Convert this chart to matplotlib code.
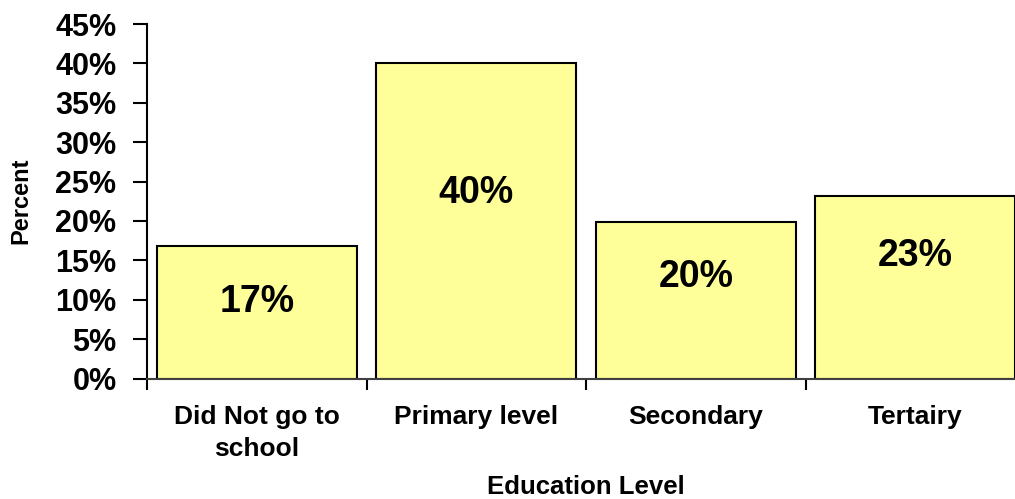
import numpy as np
import matplotlib
matplotlib.use("Agg")
import matplotlib.pyplot as plt
from matplotlib.ticker import FixedLocator, FuncFormatter

categories = ["Did Not go to\nschool", "Primary level", "Secondary", "Tertairy"]
values = [16.8, 40.0, 19.9, 23.2]
bar_labels = ["17%", "40%", "20%", "23%"]
label_frac = [0.58, 0.59, 0.65, 0.67]   # where each value label sits, as share of bar height
yticks = [0, 5, 10, 15, 20, 25, 30, 35, 40, 45]

plt.rcParams['font.family'] = ['Liberation Sans', 'DejaVu Sans']
plt.rcParams['font.weight'] = 'bold'

fig = plt.figure(figsize=(10.15, 4.99), dpi=100)
ax = fig.add_axes([147/1015, 120.5/499, 878/1015, 354.5/499])

x = np.arange(len(categories))
ax.bar(x, values, width=0.91, color='#FFFF99', edgecolor='black', linewidth=1.5, zorder=2)

for xi, v, lab, f in zip(x, values, bar_labels, label_frac):
    ax.text(xi, v*f, lab, ha='center', va='center', fontsize=27, fontweight='bold', zorder=3)

ax.set_xlim(-0.5, len(categories)-0.5)
ax.set_ylim(0, 45)

ax.yaxis.set_major_locator(FixedLocator(yticks))
ax.yaxis.set_major_formatter(FuncFormatter(lambda v, p: "%d%%" % v))
ax.tick_params(axis='y', direction='out', length=10, width=1.5, pad=12, labelsize=22)

# category boundaries as major ticks, names on minor ticks
ax.xaxis.set_major_locator(FixedLocator(np.arange(len(categories)+1) - 0.5))
ax.xaxis.set_major_formatter(FuncFormatter(lambda v, p: ""))
ax.xaxis.set_minor_locator(FixedLocator(x))
ax.set_xticklabels(categories, minor=True, fontsize=19, fontweight='bold', linespacing=1.45)
ax.tick_params(axis='x', which='major', direction='out', length=8, width=1.5)
ax.tick_params(axis='x', which='minor', length=0, pad=19)
for t in ax.xaxis.get_minorticklabels():
    t.set_verticalalignment('top')

for s in ['top', 'right']:
    ax.spines[s].set_visible(False)
ax.spines['left'].set_linewidth(1.5)
ax.spines['bottom'].set_linewidth(1.5)
ax.spines['bottom'].set_color('#404040')

ax.set_ylabel("Percent", fontsize=17, fontweight='bold')
ax.yaxis.set_label_coords(-0.131, 0.5)
ax.set_xlabel("Education Level", fontsize=18.5, fontweight='bold')
ax.xaxis.set_label_coords(0.5, -0.305)
ax.xaxis.label.set_verticalalignment('center')

fig.savefig("out.png", dpi=100)
